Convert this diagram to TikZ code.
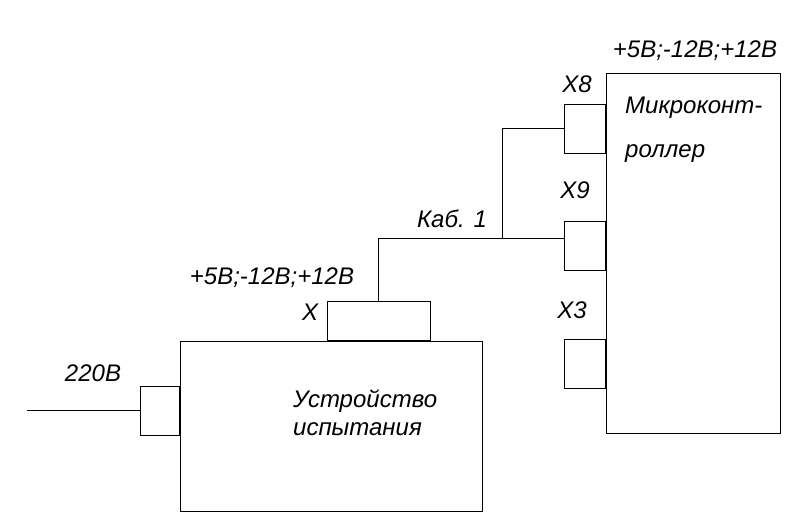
\documentclass[tikz,border=0pt]{standalone}
\usepackage{fontspec}
\setmainfont{Liberation Sans}
\usetikzlibrary{positioning,calc}
\tikzset{
    block/.style={
        rectangle,
        draw=black,
        line width=1pt,
        inner sep=0pt,
    },
    plug/.style={
        rectangle,
        draw=black,
        line width=1pt,
        inner sep=0pt,
        minimum width=41pt,
        minimum height=49pt,
    },
    lbl/.style={
        inner sep=0pt,
        font=\fontsize{24}{28}\selectfont\itshape,
    },
    wire/.style={
        draw,
        -,
        line width=1pt,
    },
}
\begin{document}
\begin{tikzpicture}[x=1pt,y=-1pt]
\useasboundingbox (0,0) rectangle (800,531);
% blocks
\node [block,minimum width=302pt,minimum height=170pt] at (331,426) (dev) {};
\node [block,minimum width=174pt,minimum height=360pt] at (693,253) (mc) {};
% plugs
\node [plug,minimum width=103pt,minimum height=39pt,anchor=south] at (378.5,341) (xcon) {};
\node [plug,minimum width=39pt,anchor=east] at (dev.west |- 0,410.5) (mains) {};
\node [plug,anchor=east] at (mc.west |- 0,128.5) (x8) {};
\node [plug,anchor=east] at (mc.west |- 0,246) (x9) {};
\node [plug,anchor=east] at (mc.west |- 0,363.5) (x3) {};
\coordinate (in) at (27,410.5);
\coordinate (fork) at (502,238);
% wires
\draw [wire] (in) -- (mains.west);
\draw [wire] (xcon.north) |- (x9.west |- fork);
\draw [wire] (fork) |- (x8.west);
% labels
\node [lbl,anchor=base] at (93,381) (l220) {220В};
\node [lbl,anchor=base] at (272,284) (lpwr1) {+5В;-12В;+12В};
\node [lbl,anchor=base] at (310,320) (lx) {X};
\node [lbl,anchor=base] at (695,57) (lpwr2) {+5В;-12В;+12В};
\node [lbl,anchor=base] at (577,92) (lx8) {X8};
\node [lbl,anchor=base] at (575,198) (lx9) {X9};
\node [lbl,anchor=base] at (572,318) (lx3) {X3};
\node [lbl,anchor=base] at (452,227) (lcab) {Каб. 1};
\node [lbl,anchor=base west] at (625,113) (lmc1) {Микроконт-};
\node [lbl,anchor=base west] at (625,157) (lmc2) {роллер};
\node [lbl,anchor=base west] at (293,407) (ldev1) {Устройство};
\node [lbl,anchor=base west] at (293,435) (ldev2) {испытания};
\end{tikzpicture}
\end{document}
